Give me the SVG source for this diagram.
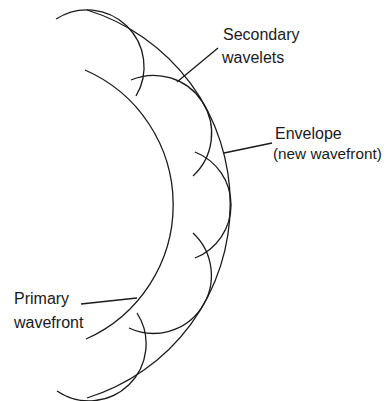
<svg xmlns="http://www.w3.org/2000/svg" width="386" height="401" viewBox="0 0 386 401">
<style>
.c{fill:none;stroke:#1a1a1a;stroke-width:1.3}
.t{font-family:"Liberation Sans",Arial,sans-serif;font-size:16px;fill:#1a1a1a}
</style>
<rect width="386" height="401" fill="#fff"/>
<g id="envelope"><path class="c" d="M87,10 A203,203 0 0 1 87,398"/></g>
<g id="primary"><path class="c" d="M85,70 A147,147 0 0 1 86,339"/></g>
<g id="wavelets">
<path class="c" d="M56,19 A57,57 0 0 1 136,96"/>
<path class="c" d="M131,80 A58,58 0 0 1 193,176"/>
<path class="c" d="M195,152 A57,57 0 0 1 195,258"/>
<path class="c" d="M193,233 A58,58 0 0 1 129,328"/>
<path class="c" d="M137,313 A57,57 0 0 1 57,391"/>
</g>
<g id="connectors">
<line class="c" x1="218" y1="48" x2="177" y2="82"/>
<line class="c" x1="272" y1="143" x2="224" y2="153"/>
<line class="c" x1="81" y1="304" x2="137" y2="298"/>
</g>
<g id="labels">
<text class="t" x="223" y="40">Secondary</text>
<text class="t" x="222" y="63">wavelets</text>
<text class="t" x="275" y="139">Envelope</text>
<text class="t" x="273" y="159" style="font-size:15.3px">(new wavefront)</text>
<text class="t" x="14" y="304">Primary</text>
<text class="t" x="14" y="328">wavefront</text>
</g>
</svg>
